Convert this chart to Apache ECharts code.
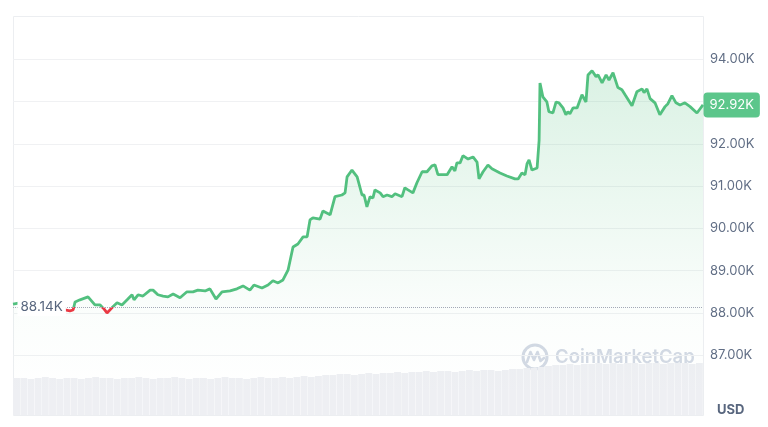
<!DOCTYPE html>
<html>
<head>
<meta charset="utf-8">
<script src="https://cdn.jsdelivr.net/npm/echarts@6/dist/echarts.min.js"></script>
<style>
  html, body { margin: 0; padding: 0; background: #fff; }
  #chart { width: 768px; height: 427px; }
</style>
</head>
<body>
<div id="chart"></div>
<script>
// 24h price (hours from start, price in K USD)
var hours = [0,0.24,0.59,0.94,1.29,1.63,1.81,1.98,2.09,2.16,2.33,2.61,2.85,3.03,3.17,3.27,3.44,3.62,3.79,3.97,
  4.14,4.21,4.35,4.52,4.77,4.87,5.04,5.22,5.39,5.57,5.81,6.05,6.26,6.43,6.68,6.85,7.06,7.27,7.55,7.79,
  8.00,8.24,8.38,8.66,8.87,9.04,9.22,9.39,9.57,9.74,9.91,10.09,10.23,10.33,10.43,10.68,10.78,11.03,11.20,11.44,
  11.55,11.62,11.79,11.97,12.14,12.21,12.31,12.42,12.52,12.59,12.77,12.87,13.01,13.18,13.29,13.53,13.63,13.74,13.91,14.05,
  14.23,14.40,14.57,14.68,14.78,15.10,15.27,15.37,15.44,15.55,15.65,15.83,16.00,16.14,16.21,16.35,16.52,16.66,16.94,17.18,
  17.46,17.57,17.70,17.81,17.88,17.95,18.05,18.23,18.30,18.33,18.43,18.57,18.64,18.78,18.89,18.99,19.13,19.23,19.30,19.37,
  19.48,19.62,19.79,19.93,20.00,20.14,20.17,20.28,20.35,20.49,20.63,20.73,20.87,20.90,21.04,21.18,21.29,21.53,21.70,21.88,
  21.95,22.05,22.16,22.33,22.50,22.68,22.78,22.92,23.06,23.20,23.37,23.55,23.79,23.90,24.00];
var prices = [88.21,88.24,88.19,88.26,88.21,88.19,88.07,88.05,88.07,88.26,88.31,88.38,88.19,88.19,88.09,88.00,88.12,88.24,88.19,88.31,
  88.43,88.31,88.43,88.40,88.54,88.54,88.43,88.40,88.38,88.45,88.36,88.50,88.50,88.54,88.52,88.57,88.33,88.50,88.52,88.57,
  88.64,88.54,88.66,88.59,88.66,88.76,88.71,88.78,89.02,89.56,89.63,89.80,89.80,90.20,90.25,90.22,90.41,90.32,90.75,90.79,
  90.84,91.22,91.38,91.22,90.79,90.79,90.51,90.75,90.72,90.91,90.84,90.75,90.79,90.75,90.82,90.75,90.96,90.91,90.84,91.08,
  91.34,91.34,91.48,91.50,91.27,91.27,91.46,91.36,91.55,91.55,91.72,91.64,91.69,91.57,91.17,91.34,91.50,91.41,91.31,91.24,
  91.17,91.17,91.31,91.27,91.53,91.62,91.38,91.43,92.09,93.44,93.11,92.99,92.76,92.73,92.99,92.97,92.85,92.69,92.76,92.71,
  92.85,92.85,93.16,92.99,93.63,93.73,93.75,93.59,93.63,93.44,93.63,93.51,93.68,93.68,93.33,93.28,93.16,92.90,93.23,93.30,
  93.21,93.30,93.07,92.97,92.69,92.88,92.95,93.14,92.97,92.92,92.97,92.88,92.73,92.83,92.92];

// volume (relative bar heights, 15 min buckets)
var volume = [37,37,36,37,38,37,36,37,37,36,37,38,37,37,36,37,37,38,37,36,37,37,38,37,
  36,37,37,36,37,38,37,37,36,37,38,37,37,38,37,38,39,38,39,40,40,41,41,40,
  41,42,41,42,42,43,42,43,43,44,43,44,44,43,44,45,44,45,45,44,45,46,46,47,
  47,48,49,50,50,51,50,51,51,52,51,52,51,52,52,51,52,52,51,52,52,52,51,52];

var openPrice = 88.14;
var lastPrice = 92.92;
var yTicks = [86, 87, 88, 89, 90, 91, 92, 93, 94, 95];

var green = '#52c07f';
var red = '#ea3943';
var labelColor = '#616e85';

var priceData = hours.map(function (h, i) { return [h, prices[i]]; });
var volCats = volume.map(function (v, i) { return i; });

var chart = echarts.init(document.getElementById('chart'));

var option = {
  animation: false,
  backgroundColor: '#fff',
  textStyle: { fontFamily: 'Inter' },
  grid: [
    { left: 13, right: 65, top: 17, bottom: 29.5 },
    { left: 13, right: 65, top: 355, bottom: 12 }
  ],
  xAxis: [
    { type: 'value', gridIndex: 0, min: 0, max: 24, show: false },
    { type: 'category', gridIndex: 1, data: volCats, show: false }
  ],
  yAxis: [
    {
      type: 'value', gridIndex: 0, position: 'right',
      min: yTicks[0], max: yTicks[yTicks.length - 1], interval: 1,
      axisLine: { show: false }, axisTick: { show: false },
      axisLabel: {
        margin: 7, color: labelColor, fontSize: 13, fontFamily: 'Inter',
        formatter: function (v) {
          if (v === yTicks[0] || v === yTicks[yTicks.length - 1]) return '';
          return v.toFixed(2) + 'K';
        }
      },
      splitLine: {
        lineStyle: {
          color: ['rgba(0,0,0,0)', '#f0f1f3', '#f0f1f3', '#f0f1f3', '#f0f1f3',
                  '#f0f1f3', '#f0f1f3', '#f0f1f3', '#f0f1f3', 'rgba(0,0,0,0)']
        }
      }
    },
    { type: 'value', gridIndex: 1, min: 0, max: 60, show: false }
  ],
  visualMap: [{
    type: 'piecewise',
    show: false,
    seriesIndex: 0,
    dimension: 1,
    pieces: [
      { gte: 80, lt: openPrice, color: red },
      { gte: openPrice, lte: 100, color: green }
    ]
  }],
  graphic: [
    {
      type: 'rect', z: -1, silent: true,
      shape: { x: 13.5, y: 16.5, width: 690, height: 399 },
      style: { fill: 'none', stroke: '#eceef1', lineWidth: 1 }
    },
    {
      type: 'group', z: 0, silent: true,
      children: [
        { type: 'circle', shape: { cx: 535, cy: 357, r: 12 },
          style: { fill: 'none', stroke: '#d3d9e4', lineWidth: 3 } },
        { type: 'polyline',
          shape: { points: [[527, 362], [530.5, 352], [534, 360], [537.5, 352], [540.5, 361], [544, 358]] },
          style: { fill: 'none', stroke: '#d3d9e4', lineWidth: 2.6, lineJoin: 'round', lineCap: 'round' } },
        { type: 'text', x: 555, y: 357,
          style: { text: 'CoinMarketCap', fill: '#d3d9e4', fontSize: 18.5, fontWeight: 600,
                   fontFamily: 'Inter', verticalAlign: 'middle' } }
      ]
    },
    {
      type: 'text', x: 717, y: 410,
      style: { text: 'USD', fill: '#58667e', fontSize: 13, fontWeight: 'bold',
               fontFamily: 'Inter', verticalAlign: 'middle' }
    }
  ],
  series: [
    {
      name: 'price',
      type: 'line',
      xAxisIndex: 0, yAxisIndex: 0,
      data: priceData,
      showSymbol: false,
      z: 3,
      lineStyle: { width: 2.8 },
      areaStyle: {
        origin: 'start',
        color: new echarts.graphic.LinearGradient(0, 0, 0, 1, [
          { offset: 0, color: 'rgba(82,192,127,0.30)' },
          { offset: 0.75, color: 'rgba(82,192,127,0.03)' },
          { offset: 1, color: 'rgba(82,192,127,0)' }
        ])
      },
      markLine: {
        silent: true,
        symbol: ['none', 'none'],
        label: { show: false },
        lineStyle: { color: '#a3a9b6', type: 'dotted', width: 1 },
        data: [{ yAxis: openPrice }]
      },
      markPoint: {
        silent: true,
        symbol: 'rect',
        symbolSize: 1,
        itemStyle: { color: 'rgba(0,0,0,0)' },
        data: [
          {
            coord: [0, openPrice],
            label: {
              show: true, position: 'right', distance: 4,
              formatter: openPrice.toFixed(2) + 'K',
              color: '#58667e', fontSize: 13.5, fontFamily: 'Inter',
              backgroundColor: '#fff', padding: [2, 3]
            }
          },
          {
            coord: [24, lastPrice],
            label: {
              show: true, position: 'right', distance: 0,
              formatter: lastPrice.toFixed(2) + 'K',
              color: '#fff', fontSize: 13, fontFamily: 'Inter',
              backgroundColor: '#5cc68b', padding: [6, 6], borderRadius: 4
            }
          }
        ]
      }
    },
    {
      name: 'volume',
      type: 'bar',
      xAxisIndex: 1, yAxisIndex: 1,
      data: volume,
      barCategoryGap: '5%',
      silent: true,
      itemStyle: { color: '#eeeff3' },
      z: 1
    }
  ]
};

chart.setOption(option);
</script>
</body>
</html>
